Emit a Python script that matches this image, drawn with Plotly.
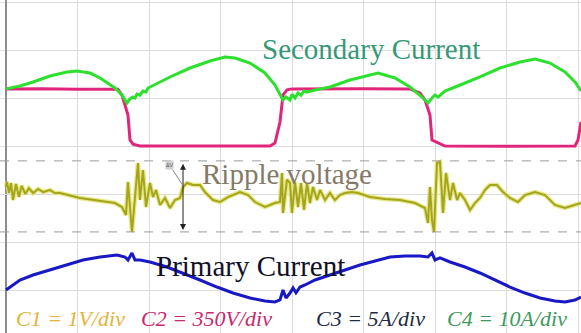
import plotly.graph_objects as go

# Oscilloscope capture: time and amplitude both in screen divisions
# (8 horizontal divisions, each channel shown at its own offset/scale).

# C4 - secondary current (green)
sec_t = [0.0, 0.196, 0.378, 0.615, 0.853, 0.993, 1.175, 1.315, 1.524, 1.622, 1.692, 1.734,
         1.776, 1.804, 1.832, 1.874, 1.916, 1.958, 1.986, 2.294, 2.573, 2.853, 3.063, 3.203,
         3.413, 3.622, 3.762, 3.832, 3.874, 3.916, 3.972, 4.0, 4.042, 4.084, 4.126, 4.168,
         4.21, 4.322, 4.531, 4.811, 5.119, 5.203, 5.441, 5.65, 5.818, 5.902, 5.958, 6.0,
         6.042, 6.14, 6.35, 6.629, 6.909, 7.189, 7.399, 7.608, 7.818, 7.958, 8.042]
sec_v = [2.19, 2.25, 2.333, 2.458, 2.542, 2.563, 2.52, 2.417, 2.208, 2.063, 1.896, 1.98,
         2.021, 2.0, 2.083, 2.06, 2.146, 2.125, 2.208, 2.438, 2.625, 2.771, 2.854, 2.833,
         2.729, 2.521, 2.271, 2.063, 1.958, 2.02, 1.958, 2.08, 2.0, 2.104, 2.06, 2.146,
         2.12, 2.167, 2.229, 2.375, 2.5, 2.521, 2.417, 2.229, 2.021, 1.896, 2.0, 2.063,
         2.02, 2.146, 2.271, 2.438, 2.625, 2.75, 2.813, 2.729, 2.542, 2.333, 2.146]

# C2 - switch voltage (magenta)
volt_t = [0.0, 0.5, 1.0, 1.5, 1.566, 1.622, 1.664, 1.706, 1.734, 1.776, 1.874, 2.5, 3.0,
          3.692, 3.762, 3.832, 3.874, 3.93, 4.0, 4.5, 5.0, 5.65, 5.79, 5.86, 5.93, 5.958,
          6.042, 6.14, 7.0, 7.958, 8.0, 8.042]
volt_v = [2.19, 2.195, 2.18, 2.19, 2.18, 2.06, 1.854, 1.646, 1.125, 1.04, 1.0, 0.995, 1.0,
          1.0, 1.06, 1.5, 2.063, 2.17, 2.19, 2.185, 2.195, 2.19, 2.104, 1.958, 1.646, 1.125,
          1.063, 1.0, 0.995, 1.0, 1.125, 1.5]

# C1 - output ripple voltage (yellow)
rip_t = [0.0, 0.014, 0.042, 0.07, 0.098, 0.14, 0.18, 0.22, 0.27, 0.32, 0.38, 0.45, 0.52,
         0.615, 0.685, 0.755, 1.035, 1.315, 1.524, 1.622, 1.678, 1.706, 1.734, 1.762, 1.846,
         1.874, 1.916, 1.958, 2.014, 2.056, 2.098, 2.154, 2.224, 2.294, 2.364, 2.434, 2.476,
         2.531, 2.615, 2.713, 2.783, 2.895, 2.993, 3.105, 3.273, 3.385, 3.483, 3.622, 3.762,
         3.832, 3.86, 3.874, 3.93, 3.972, 4.0, 4.042, 4.084, 4.126, 4.168, 4.21, 4.252,
         4.294, 4.35, 4.392, 4.462, 4.531, 4.601, 4.671, 4.741, 4.839, 4.923, 5.091, 5.301,
         5.51, 5.72, 5.86, 5.902, 5.93, 5.958, 5.986, 6.028, 6.07, 6.112, 6.154, 6.21, 6.252,
         6.308, 6.35, 6.42, 6.49, 6.559, 6.629, 6.699, 6.769, 6.867, 6.951, 7.049, 7.161,
         7.259, 7.399, 7.538, 7.678, 7.818, 7.958, 8.042]
rip_v = [0.146, 0.25, 0.021, 0.229, -0.125, 0.21, -0.06, 0.17, 0.0, 0.12, 0.02, 0.104, 0.04,
         0.083, 0.021, 0.021, -0.083, -0.146, -0.188, -0.271, -0.438, 0.25, -0.2, -0.792, 0.646,
         -0.125, 0.5, -0.271, 0.229, -0.063, 0.083, -0.229, -0.083, -0.292, -0.125, -0.083, 0.146,
         0.229, 0.188, 0.188, 0.042, -0.125, -0.167, -0.063, 0.042, -0.021, -0.167, -0.271, -0.188,
         -0.167, 0.438, -0.396, 0.3, 0.229, -0.396, 0.25, -0.271, 0.229, -0.333, 0.229, -0.188,
         0.146, -0.125, 0.083, -0.125, 0.021, -0.125, -0.021, 0.021, 0.042, 0.021, -0.063, -0.104,
         -0.125, -0.188, -0.292, -0.604, 0.146, -0.542, -0.792, 0.646, 0.667, -0.396, 0.438, -0.125, 0.229,
         -0.125, 0.021, -0.125, -0.333, -0.188, -0.083, 0.083, 0.188, 0.188, 0.042, -0.083, -0.167,
         -0.021, 0.042, -0.021, -0.229, -0.292, -0.229, -0.188]

# C3 - primary current (blue)
pri_t = [0.0, 0.056, 0.196, 0.378, 0.615, 0.853, 1.077, 1.315, 1.552, 1.664, 1.706, 1.762,
         1.804, 1.874, 2.014, 2.252, 2.476, 2.713, 2.951, 3.175, 3.413, 3.622, 3.762, 3.832,
         3.874, 3.916, 3.972, 4.014, 4.056, 4.112, 4.182, 4.322, 4.531, 4.741, 4.951, 5.161,
         5.371, 5.58, 5.79, 5.902, 5.958, 6.0, 6.07, 6.21, 6.42, 6.629, 6.839, 7.049, 7.259,
         7.469, 7.678, 7.818, 7.958, 8.042]
pri_v = [-2.0, -1.938, -1.792, -1.688, -1.583, -1.479, -1.375, -1.313, -1.271, -1.313, -1.375,
         -1.229, -1.375, -1.375, -1.417, -1.521, -1.646, -1.792, -1.938, -2.063, -2.167, -2.229,
         -2.25, -2.208, -2.0, -2.167, -2.063, -1.958, -2.06, -1.938, -1.896, -1.792, -1.688,
         -1.583, -1.479, -1.396, -1.313, -1.292, -1.292, -1.313, -1.229, -1.375, -1.333, -1.417,
         -1.521, -1.646, -1.792, -1.938, -2.063, -2.167, -2.229, -2.25, -2.208, -2.146]

# Ripple cursors (divisions)
cursor_levels = [0.69, -0.79]
cursor_time = 2.476
cursor_span = [0.66, -0.75]

scale_labels = ["C1 = 1V/div", "C2 = 350V/div", "C3 = 5A/div", "C4 = 10A/div"]
scale_colors = ["#e2b53a", "#c8286e", "#1c2a44", "#3c9a5c"]
scale_x = [0.121, 0.356, 0.637, 0.873]

fig = go.Figure()

fig.add_trace(go.Scatter(x=volt_t, y=volt_v, mode="lines",
                         line=dict(color="#e2257c", width=3)))
fig.add_trace(go.Scatter(x=sec_t, y=sec_v, mode="lines",
                         line=dict(color="#2ee02e", width=3)))
fig.add_trace(go.Scatter(x=rip_t, y=rip_v, mode="lines",
                         line=dict(color="rgba(225,225,110,0.8)", width=4.5)))
fig.add_trace(go.Scatter(x=rip_t, y=rip_v, mode="lines",
                         line=dict(color="#a5a51c", width=2)))
fig.add_trace(go.Scatter(x=pri_t, y=pri_v, mode="lines",
                         line=dict(color="#1818c4", width=3)))

for lvl in cursor_levels:
    fig.add_hline(y=lvl, line=dict(color="#9a9a9a", width=1, dash="dash"))

# Vertical ripple cursor with arrowheads on both ends
fig.add_annotation(x=cursor_time, y=cursor_span[1], ax=cursor_time, ay=cursor_span[0],
                   xref="x", yref="y", axref="x", ayref="y", text="",
                   showarrow=True, arrowhead=2, arrowside="end+start",
                   arrowsize=1.2, arrowwidth=1, arrowcolor="#222222")
fig.add_annotation(x=cursor_time, y=0.17, ax=2.29, ay=0.6, xref="x", yref="y",
                   axref="x", ayref="y", text="ΔV", font=dict(size=6, color="#555555"),
                   bgcolor="#cfcfcf", borderpad=0, showarrow=True, arrowhead=0,
                   arrowwidth=1, arrowcolor="#8a8a8a", standoff=0)

serif = "Liberation Serif, Times New Roman, serif"
fig.add_annotation(text="Secondary Current", x=0.6394, y=0.854, xref="paper", yref="paper",
                   showarrow=False, xanchor="center", yanchor="middle",
                   font=dict(family=serif, size=29, color="#379877"))
fig.add_annotation(text="Ripple voltage", x=0.4948, y=0.476, xref="paper", yref="paper",
                   showarrow=False, xanchor="center", yanchor="middle",
                   font=dict(family=serif, size=29, color="#857a68"))
fig.add_annotation(text="Primary Current", x=0.4312, y=0.201, xref="paper", yref="paper",
                   showarrow=False, xanchor="center", yanchor="middle",
                   font=dict(family=serif, size=29, color="#101028"))

for lab, col, xp in zip(scale_labels, scale_colors, scale_x):
    fig.add_annotation(text=f"<i>{lab}</i>", x=xp, y=0.044, xref="paper", yref="paper",
                       showarrow=False, xanchor="center", yanchor="middle",
                       font=dict(family=serif, size=22, color=col))

fig.update_layout(
    width=581, height=333, margin=dict(l=0, r=0, t=0, b=0),
    paper_bgcolor="white", plot_bgcolor="white", showlegend=False,
    xaxis=dict(range=[-0.0839, 8.042], tick0=0, dtick=1, showgrid=True,
               gridcolor="#dcdcdc", gridwidth=1, zeroline=True, zerolinecolor="#8c8c8c",
               zerolinewidth=2, showticklabels=False, ticks="", fixedrange=True),
    yaxis=dict(range=[-2.896, 4.042], tick0=0, dtick=1, showgrid=True,
               gridcolor="#dcdcdc", gridwidth=1, zeroline=True, zerolinecolor="#dcdcdc",
               zerolinewidth=1, showticklabels=False, ticks="", fixedrange=True),
)

fig.write_html("out.html")
